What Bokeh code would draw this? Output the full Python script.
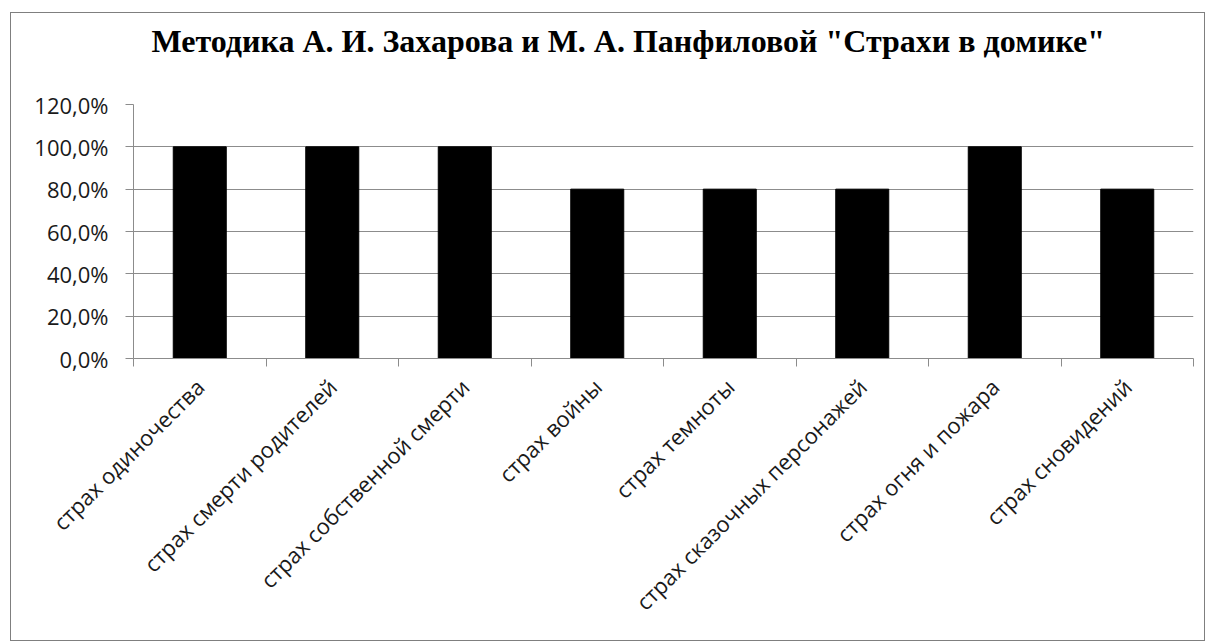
import math
from bokeh.plotting import figure
from bokeh.models import FixedTicker, CustomJSTickFormatter, Title, Range1d
from bokeh.embed import file_html
from bokeh.resources import INLINE

categories = ["страх одиночества", "страх смерти родителей", "страх собственной смерти",
              "страх войны", "страх темноты", "страх сказочных персонажей",
              "страх огня и пожара", "страх сновидений"]
values = [100.0, 100.0, 100.0, 80.0, 80.0, 80.0, 100.0, 80.0]
y_ticks = [0, 20, 40, 60, 80, 100, 120]
title_text = 'Методика А. И. Захарова и М. А. Панфиловой  "Страхи в домике"'

n = len(categories)
xs = [i + 0.5 for i in range(n)]

p = figure(width=1195, height=629, output_backend="svg", toolbar_location=None,
           x_range=Range1d(0, n), y_range=Range1d(0, 120),
           min_border_left=122, min_border_right=13, min_border_top=91, min_border_bottom=284)
p.margin = (12, 0, 0, 10)

p.title.text = title_text
p.title.text_font = "Liberation Serif"
p.title.text_font_style = "bold"
p.title.text_font_size = "32px"
p.title.text_color = "black"
p.title.align = "left"
p.title.offset = 18
p.title.standoff = 0
p.title.vertical_align = "bottom"

# invisible spacer between the title and the plot frame
spacer = Title(text=" ", text_font_size="32px", standoff=8)
p.add_layout(spacer, "above")

p.vbar(x=xs, top=values, width=0.4, bottom=0, fill_color="black", line_color="black")

p.outline_line_color = None
p.background_fill_color = "white"
p.border_fill_color = "white"
p.styles = {"border": "1px solid #7f7f7f"}

p.xgrid.grid_line_color = None
p.ygrid.grid_line_color = "#8c8c8c"
p.ygrid.grid_line_width = 1
p.ygrid.ticker = FixedTicker(ticks=y_ticks)

p.yaxis.ticker = FixedTicker(ticks=y_ticks)
p.yaxis.formatter = CustomJSTickFormatter(code="return tick.toFixed(1).replace('.', ',') + '%';")
p.yaxis.axis_line_color = "#8c8c8c"
p.yaxis.major_tick_line_color = "#8c8c8c"
p.yaxis.major_tick_out = 8
p.yaxis.major_tick_in = 0
p.yaxis.minor_tick_line_color = None
p.yaxis.major_label_text_font = "Open Sans"
p.yaxis.major_label_text_font_size = "22px"
p.yaxis.major_label_text_color = "#1a1a1a"
p.yaxis.major_label_standoff = 17

p.xaxis.ticker = FixedTicker(ticks=xs, minor_ticks=list(range(n + 1)))
p.xaxis.major_label_overrides = {x: c for x, c in zip(xs, categories)}
p.xaxis.major_label_orientation = math.pi / 4
p.xaxis.major_tick_line_color = None
p.xaxis.minor_tick_line_color = "#8c8c8c"
p.xaxis.minor_tick_out = 8
p.xaxis.minor_tick_in = 0
p.xaxis.axis_line_color = "#8c8c8c"
p.xaxis.major_label_text_font = "Open Sans"
p.xaxis.major_label_text_font_size = "22px"
p.xaxis.major_label_text_color = "#1a1a1a"
p.xaxis.major_label_standoff = 16

open("out.html", "w").write(file_html(p, INLINE))
